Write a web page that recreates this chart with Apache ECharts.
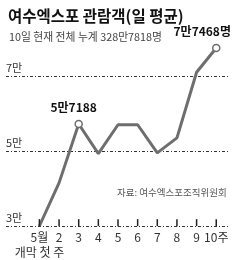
<!DOCTYPE html>
<html>
<head>
<meta charset="utf-8">
<script src="https://cdn.jsdelivr.net/npm/echarts@6/dist/echarts.min.js"></script>
<style>
  html, body { margin: 0; padding: 0; background: #fff; }
  #chart { width: 240px; height: 260px; }
</style>
</head>
<body>
<div id="chart"></div>
<script>
// weeks since opening (1 = opening week in May)
var weeks = [1, 2, 3, 4, 5, 6, 7, 8, 9, 10];
var weekLabels = ['5월', '2', '3', '4', '5', '6', '7', '8', '9', '10주'];
var openingNote = '개막 첫 주';
// daily average visitors, in 만 (10,000)
var visitors = [3.0, 4.15, 5.7188, 4.93, 5.7, 5.7, 4.95, 5.35, 7.1, 7.7468];
var refLines = [3, 5, 7];
var highlight = { 2: '5만7188', 9: '7만7468명' };

var FONT = '"Noto Sans CJK KR", "Liberation Sans Narrow", sans-serif';
var Y_MIN = 3;
var TICK_MID = 0.09; // tick centre, just above the 3만 line

var chart = echarts.init(document.getElementById('chart'), null, { renderer: 'canvas' });

var seriesData = weeks.map(function (w, i) {
    var item = { value: [w, visitors[i]] };
    if (highlight[i]) {
        item.symbolSize = 7;
        item.label = {
            show: true,
            formatter: highlight[i],
            position: 'top',
            distance: 6,
            offset: i === 9 ? [-14, 0] : [-5, 0],
            fontFamily: FONT,
            fontSize: 12,
            fontWeight: 'bold',
            color: '#111'
        };
    }
    return item;
});

var axisBase = {
    type: 'value',
    position: 'bottom',
    min: -0.7,
    max: 10.7,
    splitLine: { show: false },
    axisLine: { show: false },
    axisTick: { show: false }
};

chart.setOption({
    backgroundColor: '#fff',
    animation: false,
    title: [{
        text: '여수엑스포 관람객(일 평균)',
        left: 3,
        top: 3,
        textStyle: { fontFamily: FONT, fontSize: 15.5, fontWeight: 'bold', color: '#111' }
    }, {
        text: '10일 현재 전체 누계 328만7818명',
        left: 4,
        top: 27,
        textStyle: { fontFamily: FONT, fontSize: 10.8, fontWeight: 'normal', color: '#444' }
    }],
    graphic: [{
        type: 'text',
        left: 117,
        top: 188,
        style: { text: '자료: 여수엑스포조직위원회', font: '9.5px ' + FONT, fill: '#555' }
    }],
    grid: { left: 6, right: 10, top: 38.5, bottom: 34 },
    xAxis: [Object.assign({}, axisBase, {
        axisLabel: {
            customValues: weeks,
            hideOverlap: false,
            margin: 5,
            fontFamily: FONT,
            fontSize: 12,
            color: '#333',
            formatter: function (v) { return weekLabels[Math.round(v) - 1]; }
        }
    }), Object.assign({}, axisBase, {
        axisLabel: {
            customValues: [weeks[0]],
            margin: 20,
            fontFamily: FONT,
            fontSize: 12,
            color: '#333',
            formatter: function () { return openingNote; }
        }
    })],
    yAxis: {
        type: 'value',
        min: Y_MIN,
        max: 8,
        show: false
    },
    series: [{
        // small week ticks standing on the 3만 line
        type: 'scatter',
        silent: true,
        clip: false,
        z: 10,
        symbol: 'rect',
        symbolSize: [1.5, 7],
        itemStyle: { color: '#222', opacity: 1 },
        emphasis: { disabled: true },
        data: weeks.map(function (w) { return [w, Y_MIN + TICK_MID]; })
    }, {
        type: 'line',
        data: seriesData,
        symbol: 'circle',
        symbolSize: 0,
        showAllSymbol: true,
        lineStyle: { color: '#6e6e6e', width: 3 },
        itemStyle: { color: '#fff', borderColor: '#6e6e6e', borderWidth: 1.5 },
        z: 3,
        markLine: {
            silent: true,
            symbol: 'none',
            z: 1,
            lineStyle: { color: '#333', type: [3, 2, 1, 2], width: 1 },
            label: {
                show: true,
                position: 'insideStartTop',
                distance: [0, 3],
                fontFamily: FONT,
                fontSize: 11,
                color: '#333',
                formatter: function (p) { return p.value + '만'; }
            },
            data: refLines.map(function (v) { return { yAxis: v }; })
        }
    }]
});
</script>
</body>
</html>
